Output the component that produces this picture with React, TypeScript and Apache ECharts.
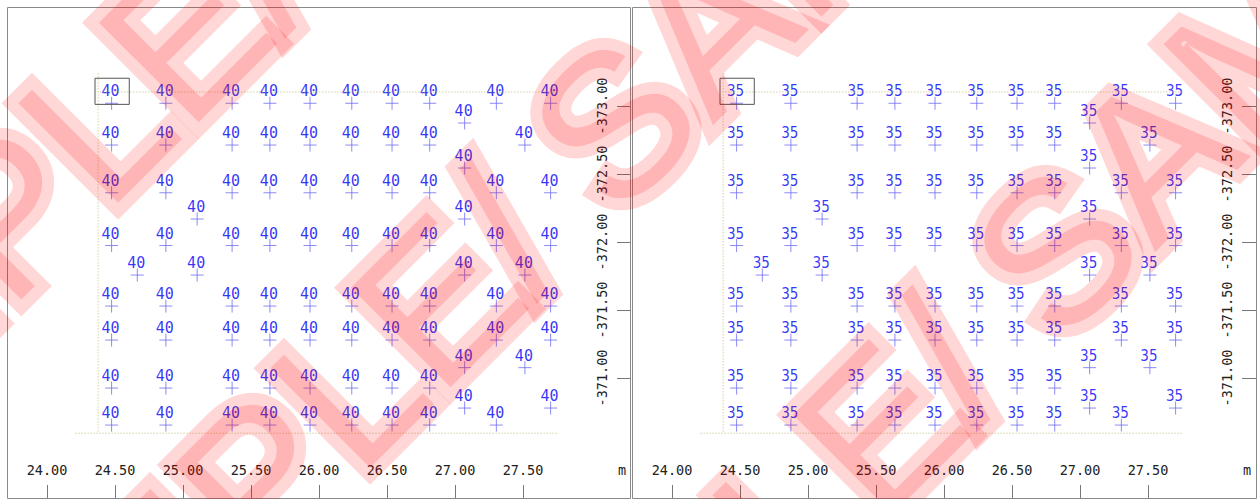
import React, { useEffect, useRef } from 'react';
import * as echarts from 'echarts';

// ---- data ----
const xTickValues = [24.0, 24.5, 25.0, 25.5, 26.0, 26.5, 27.0, 27.5];
const yTickValues = [-373.0, -372.5, -372.0, -371.5, -371.0];
const axisUnit = 'm';

const leftPanelValue = '40';
const rightPanelValue = '35';

// regular survey stations [easting, northing]
const gridStations: [number, number][] = [
  [24.475, -373.02], [24.874, -373.02], [25.361, -373.02], [25.639, -373.02], [25.934, -373.02],
  [26.241, -373.02], [26.537, -373.02], [26.814, -373.02], [27.304, -373.02], [27.703, -373.02],
  [24.475, -372.713], [24.874, -372.713], [25.361, -372.713], [25.639, -372.713], [25.934, -372.713],
  [26.241, -372.713], [26.537, -372.713], [26.814, -372.713], [27.514, -372.713],
  [24.475, -372.362], [24.874, -372.362], [25.361, -372.362], [25.639, -372.362], [25.934, -372.362],
  [26.241, -372.362], [26.537, -372.362], [26.814, -372.362], [27.304, -372.362], [27.703, -372.362],
  [24.475, -371.974], [24.874, -371.974], [25.361, -371.974], [25.639, -371.974], [25.934, -371.974],
  [26.241, -371.974], [26.537, -371.974], [26.814, -371.974], [27.304, -371.974], [27.703, -371.974],
  [24.475, -371.529], [24.874, -371.529], [25.361, -371.529], [25.639, -371.529], [25.934, -371.529],
  [26.241, -371.529], [26.537, -371.529], [26.814, -371.529], [27.304, -371.529], [27.703, -371.529],
  [24.475, -371.279], [24.874, -371.279], [25.361, -371.279], [25.639, -371.279], [25.934, -371.279],
  [26.241, -371.279], [26.537, -371.279], [26.814, -371.279], [27.304, -371.279], [27.703, -371.279],
  [24.475, -370.926], [24.874, -370.926], [25.361, -370.926], [25.639, -370.926], [25.934, -370.926],
  [26.241, -370.926], [26.537, -370.926], [26.814, -370.926],
  [24.475, -370.654], [24.874, -370.654], [25.361, -370.654], [25.639, -370.654], [25.934, -370.654],
  [26.241, -370.654], [26.537, -370.654], [26.814, -370.654], [27.304, -370.654],
];

// infill stations off the regular grid
const infillStations: [number, number][] = [
  [25.104, -372.169], [24.664, -371.757], [25.104, -371.757],
  [27.071, -372.875], [27.071, -372.544], [27.071, -372.169], [27.071, -371.757],
  [27.071, -371.076], [27.071, -370.779],
  [27.514, -371.757], [27.514, -371.076], [27.703, -370.779],
];

// dotted survey outline
const outlinePath: [number, number][] = [
  [24.21, -370.594], [27.804, -370.594], [27.804, -373.103], [24.376, -373.103],
];
const outlineLeftEdge: [number, number][] = [
  [24.376, -373.24], [24.376, -370.594],
];
// highlighted first station box
const highlightBox: [number, number][] = [
  [24.353, -373.204], [24.605, -373.204], [24.605, -373.012], [24.353, -373.012], [24.353, -373.204],
];

const watermarkText = 'SAMPLE/ SAMPLE/ SAMPLE/ ';

const PX_PER_M = 136;
const DATA_PAD_X = 0.25; // metres of plot room around the tick range
const DATA_PAD_Y = 0.5;

export default function App() {
  const ref = useRef<HTMLDivElement>(null);

  useEffect(() => {
    if (!ref.current) return;
    const chart = echarts.init(ref.current, null, { renderer: 'svg' });

    const xMin = xTickValues[0];
    const xMax = xTickValues[xTickValues.length - 1];
    const yMin = yTickValues[0];
    const yMax = yTickValues[yTickValues.length - 1];
    const gridW = (xMax - xMin) * PX_PER_M;
    const gridH = (yMax - yMin) * PX_PER_M;
    const gridTop = 106;

    const panels = [
      { left: 47, value: leftPanelValue, font: 'DejaVu Sans Mono' },
      { left: 672, value: rightPanelValue, font: '"DejaVu Sans Condensed", "DejaVu Sans"' },
    ];

    const grids: any[] = [];
    const xAxes: any[] = [];
    const yAxes: any[] = [];
    const series: any[] = [];
    const tickFont = { fontFamily: 'DejaVu Sans Mono', fontSize: 13.5, color: '#222' };

    panels.forEach((p, i) => {
      const ai = i * 2; // axis grid
      const di = i * 2 + 1; // data grid
      grids.push({ left: p.left, top: gridTop, width: gridW, height: gridH, containLabel: false });
      grids.push({
        left: p.left - DATA_PAD_X * PX_PER_M,
        top: gridTop - DATA_PAD_Y * PX_PER_M,
        width: gridW + 2 * DATA_PAD_X * PX_PER_M,
        height: gridH + 2 * DATA_PAD_Y * PX_PER_M,
        containLabel: false,
      });
      xAxes.push({
        gridIndex: ai,
        type: 'value',
        min: xMin,
        max: xMax,
        interval: 0.5,
        position: 'bottom',
        offset: 485 - (gridTop + gridH),
        axisLine: { show: false },
        axisTick: { show: true, inside: false, length: 14, lineStyle: { color: '#777', width: 1 } },
        axisLabel: { inside: true, margin: 8, formatter: (v: number) => v.toFixed(2), ...tickFont },
        splitLine: { show: false },
        name: axisUnit,
        nameLocation: 'end',
        nameGap: 95,
        nameTextStyle: { ...tickFont, verticalAlign: 'bottom', lineHeight: 30 },
      });
      xAxes.push({
        gridIndex: di,
        type: 'value',
        show: false,
        min: xMin - DATA_PAD_X,
        max: xMax + DATA_PAD_X,
        splitLine: { show: false },
      });
      yAxes.push({
        gridIndex: ai,
        type: 'value',
        inverse: true,
        min: yMin,
        max: yMax,
        interval: 0.5,
        position: 'right',
        offset: 94,
        axisLine: { show: false },
        axisTick: { show: true, inside: false, length: 14, lineStyle: { color: '#777', width: 1 } },
        axisLabel: { inside: true, rotate: 90, margin: 8, formatter: (v: number) => v.toFixed(2), ...tickFont },
        splitLine: { show: false },
      });
      yAxes.push({
        gridIndex: di,
        type: 'value',
        show: false,
        inverse: true,
        min: yMin - DATA_PAD_Y,
        max: yMax + DATA_PAD_Y,
        splitLine: { show: false },
      });
      const dotted = { type: [1, 2], color: '#c2b979', width: 1 };
      series.push({
        type: 'line', xAxisIndex: di, yAxisIndex: di, data: outlinePath,
        symbol: 'none', silent: true, lineStyle: dotted,
      });
      series.push({
        type: 'line', xAxisIndex: di, yAxisIndex: di, data: outlineLeftEdge,
        symbol: 'none', silent: true, lineStyle: dotted,
      });
      series.push({
        type: 'line', xAxisIndex: di, yAxisIndex: di, data: highlightBox,
        symbol: 'none', silent: true, lineStyle: { type: 'solid', color: '#555', width: 1 },
      });
      series.push({
        type: 'scatter',
        xAxisIndex: di,
        yAxisIndex: di,
        data: [...gridStations, ...infillStations],
        symbol: 'path://M6,0L6,12M0,6L12,6',
        symbolSize: 13,
        silent: true,
        itemStyle: { color: 'rgba(0,0,0,0)', borderColor: '#6e6ef4', borderWidth: 1 },
        label: {
          show: true,
          position: 'inside',
          offset: [-1, -12],
          formatter: () => p.value,
          color: '#0000f5',
          textBorderWidth: 0,
          textBorderColor: 'transparent',
          fontFamily: p.font,
          fontSize: 15,
        },
      });
    });

    const wmColor = 'rgba(255,0,0,0.155)';
    const wmFont = '205px "Liberation Sans"';
    const wmStarts = [[-355, 575], [-103, 840], [339, 967]];
    const wmElems: any[] = [];
    wmStarts.forEach(([x, y]) => {
      // wide halo layer (stroke only, covers whole glyph) + darker core layer (fill only)
      wmElems.push({
        type: 'text', x, y, rotation: Math.PI / 4, z: 100, silent: true,
        style: {
          text: watermarkText, font: wmFont, fill: 'none', stroke: wmColor, lineWidth: 24,
          lineJoin: 'round', align: 'left', verticalAlign: 'middle',
        },
      });
      wmElems.push({
        type: 'text', x, y, rotation: Math.PI / 4, z: 101, silent: true,
        style: {
          text: watermarkText, font: wmFont, fill: wmColor, align: 'left', verticalAlign: 'middle',
        },
      });
    });

    chart.setOption({
      animation: false,
      backgroundColor: '#fff',
      grid: grids,
      xAxis: xAxes,
      yAxis: yAxes,
      series,
      graphic: {
        elements: [
          { type: 'rect', z: 1, silent: true, shape: { x: 7.5, y: 7.5, width: 623, height: 491 }, style: { fill: 'none', stroke: '#8a8a8a', lineWidth: 1 } },
          { type: 'rect', z: 1, silent: true, shape: { x: 632.5, y: 7.5, width: 624, height: 491 }, style: { fill: 'none', stroke: '#8a8a8a', lineWidth: 1 } },
          ...wmElems,
        ],
      },
    });

    return () => chart.dispose();
  }, []);

  return (
    <div
      ref={ref}
      style={{ position: 'fixed', left: 0, top: 0, width: 1260, height: 499, background: '#fff' }}
    />
  );
}
